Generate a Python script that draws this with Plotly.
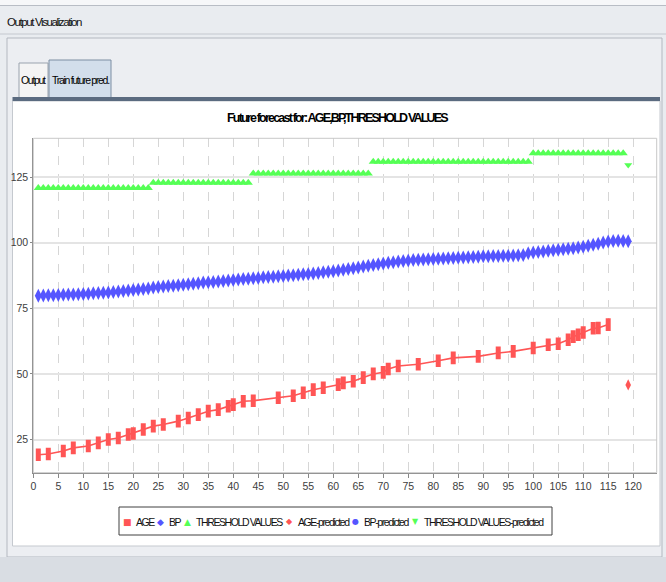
import plotly.graph_objects as go

# ---------------- data ----------------
age_x = [1, 3, 6, 8, 11, 13, 15, 17, 19, 20, 22, 24, 26, 29, 31, 33, 35, 37, 39, 40,
         42, 44, 49, 52, 54, 56, 58, 61, 62, 64, 66, 68, 70, 71, 73, 77, 81, 84, 89, 93,
         96, 100, 103, 105, 107, 108, 109, 110, 112, 113, 115]
age_y = [19.2, 19.5, 20.6, 21.8, 22.5, 23.7, 25.0, 25.6, 26.9, 27.3, 28.8, 30.1, 30.7, 32.0, 33.2, 34.5, 35.8, 36.4, 37.7, 38.3,
         39.6, 39.8, 40.9, 41.7, 42.8, 44.0, 44.7, 45.9, 46.6, 47.2, 48.6, 50.0, 50.6, 51.9, 53.0, 53.7, 55.0, 56.1, 56.7, 58.0,
         58.6, 59.9, 61.1, 61.5, 63.0, 64.2, 64.9, 65.8, 67.4, 67.5, 68.8]

bp_x = list(range(1, 119))
bp_y = [79.8, 79.9, 80.0, 80.0, 80.1, 80.2, 80.3, 80.3, 80.4, 80.5,
        80.6, 80.7, 80.8, 80.9, 81.0, 81.2, 81.4, 81.6, 81.8, 82.0,
        82.2, 82.4, 82.6, 82.9, 83.1, 83.3, 83.5, 83.6, 83.8, 84.0,
        84.2, 84.4, 84.6, 84.8, 84.9, 85.0, 85.2, 85.4, 85.6, 85.8,
        86.0, 86.2, 86.3, 86.5, 86.6, 86.8, 86.9, 87.0, 87.2, 87.3,
        87.5, 87.6, 87.8, 88.0, 88.1, 88.3, 88.5, 88.7, 88.9, 89.1,
        89.4, 89.7, 90.0, 90.3, 90.6, 90.9, 91.2, 91.5, 91.8, 92.1,
        92.4, 92.6, 92.8, 93.0, 93.2, 93.4, 93.5, 93.6, 93.7, 93.8,
        93.9, 94.0, 94.1, 94.2, 94.3, 94.4, 94.5, 94.6, 94.7, 94.8,
        94.8, 94.9, 94.9, 95.0, 95.0, 95.1, 95.2, 95.3, 96.0, 96.3,
        96.5, 96.7, 96.9, 97.1, 97.3, 97.5, 97.7, 97.9, 98.2, 98.5,
        98.8, 99.2, 99.6, 100.1, 100.5, 100.7, 100.8, 100.7]

thr_x = list(range(1, 119))
thr_y = [120.9, 120.9, 120.9, 120.9, 120.9, 120.9, 120.9, 120.9, 120.9, 120.9,
         120.9, 120.9, 120.9, 120.9, 120.9, 120.9, 120.9, 120.9, 120.9, 120.9,
         120.9, 120.9, 120.9, 122.9, 122.9, 122.9, 122.9, 122.9, 122.9, 122.9,
         122.9, 122.9, 122.9, 122.9, 122.9, 122.9, 122.9, 122.9, 122.9, 122.9,
         122.9, 122.9, 122.9, 126.4, 126.4, 126.4, 126.4, 126.4, 126.4, 126.4,
         126.4, 126.4, 126.4, 126.4, 126.4, 126.4, 126.4, 126.4, 126.4, 126.4,
         126.4, 126.4, 126.4, 126.4, 126.4, 126.4, 126.4, 130.9, 130.9, 130.9,
         130.9, 130.9, 130.9, 130.9, 130.9, 130.9, 130.9, 130.9, 130.9, 130.9,
         130.9, 130.9, 130.9, 130.9, 130.9, 130.9, 130.9, 130.9, 130.9, 130.9,
         130.9, 130.9, 130.9, 130.9, 130.9, 130.9, 130.9, 130.9, 130.9, 134.1,
         134.1, 134.1, 134.1, 134.1, 134.1, 134.1, 134.1, 134.1, 134.1, 134.1,
         134.1, 134.1, 134.1, 134.1, 134.1, 134.1, 134.1, 134.1]

age_pred_x = [119]
age_pred_y = [45.8]
bp_pred_x = [119]
bp_pred_y = [100.6]
thr_pred_x = [119]
thr_pred_y = [129.6]

x_ticks = list(range(0, 121, 5))
y_ticks = [25, 50, 75, 100, 125]

legend_labels = ["AGE", "BP", "THRESHOLD VALUES", "AGE-predicted", "BP-predicted",
                 "THRESHOLD VALUES-predicted"]
title_text = "Future forecast for: AGE,BP,THRESHOLD VALUES"
window_title = "Output Visualization"
tab_labels = ["Output", "Train future pred."]

# ---------------- style ----------------
W, H = 666, 582
RED, BLUE, GREEN = "#FF5555", "#5555FF", "#55FF55"
FONT = "Liberation Sans, Arial, sans-serif"
PL, PR, PT, PB = 33.3, 656.7, 138.3, 472.7


def fx(p):
    return p / W


def fy(p):
    return 1 - p / H


def tight(s, ls):
    return '<span style="letter-spacing:%spx">%s</span>' % (ls, s)


fig = go.Figure()
fig.add_trace(go.Scatter(x=age_x, y=age_y, mode="lines+markers", name=legend_labels[0],
                         line=dict(color=RED, width=1.6),
                         marker=dict(symbol="line-ns", size=9, line=dict(color=RED, width=5))))
fig.add_trace(go.Scatter(x=bp_x, y=bp_y, mode="markers", name=legend_labels[1],
                         marker=dict(symbol="diamond-tall", size=10, color=BLUE, line=dict(width=0))))
fig.add_trace(go.Scatter(x=thr_x, y=thr_y, mode="markers", name=legend_labels[2],
                         marker=dict(symbol="triangle-up", size=8, color=GREEN, line=dict(width=0))))
fig.add_trace(go.Scatter(x=age_pred_x, y=age_pred_y, mode="markers", name=legend_labels[3],
                         marker=dict(symbol="diamond-tall", size=8, color=RED, line=dict(width=0))))
fig.add_trace(go.Scatter(x=bp_pred_x, y=bp_pred_y, mode="markers", name=legend_labels[4],
                         marker=dict(symbol="diamond-tall", size=10, color=BLUE, line=dict(width=0))))
fig.add_trace(go.Scatter(x=thr_pred_x, y=thr_pred_y, mode="markers", name=legend_labels[5],
                         marker=dict(symbol="triangle-down", size=7, color=GREEN, line=dict(width=0))))

shapes = []


def rect(x0, y0, x1, y1, fill, line=None, lw=1, layer="below"):
    shapes.append(dict(type="rect", xref="paper", yref="paper",
                       x0=fx(x0), x1=fx(x1), y0=fy(y1), y1=fy(y0),
                       fillcolor=fill, line=dict(color=line or fill, width=lw if line else 0),
                       layer=layer))


def hline(x0, x1, y, color, lw=1, layer="below"):
    shapes.append(dict(type="line", xref="paper", yref="paper",
                       x0=fx(x0), x1=fx(x1), y0=fy(y), y1=fy(y),
                       line=dict(color=color, width=lw), layer=layer))


# window chrome
rect(0, 0, W, 5, "#f6f7f9")
hline(0, W, 5.5, "#b8bdc5", 1)
hline(0, W, 34, "#c4c8cf", 1)
rect(7, 38, 662, 557, "#eceef2", "#b3b8c0", 1)
rect(0, 557, W, H, "#d9dde3")
rect(19, 63, 48, 98, "#f4f4f4", "#9aa3ae", 1)
rect(49, 60, 111, 98, "#d2deeb", "#7d8ea3", 1)
rect(12.5, 101, 660, 546, "#ffffff", "#c5c9cf", 1)
rect(12.5, 97, 660, 101, "#5b6b80")
# plot frame
rect(PL, PT, PR, PB, "rgba(0,0,0,0)", "#c8c8c8", 1, layer="above")
# legend box
LB0, LB1 = 119, 552
rect(LB0, 507, LB1, 535, "#ffffff", "#404040", 1)

annotations = []


def text(x, y, s, size=11, color="#000000", anchor="left", bold=False, ls=-1.0):
    body = tight(s, ls)
    if bold:
        body = "<b>%s</b>" % body
    annotations.append(dict(xref="paper", yref="paper", x=fx(x), y=fy(y), text=body,
                            showarrow=False, xanchor=anchor, yanchor="middle",
                            font=dict(family=FONT, size=size, color=color)))


text(5, 22, window_title, 11.5, color="#111111", ls=-1.4)
text(33.5, 80, tab_labels[0], 10.5, anchor="center", ls=-1.3)
text(80, 80, tab_labels[1], 10.5, anchor="center", ls=-1.3)
text(337, 118, title_text, 12.5, anchor="center", bold=True, ls=-1.8)

# custom legend (marker glyphs + labels)
glyphs = [("■", RED, 9), ("◆", BLUE, 9), ("▲", GREEN, 9), ("◆", RED, 8), ("●", BLUE, 8), ("▼", GREEN, 8)]
glyph_x = [127.5, 160.7, 187.4, 289.6, 355.8, 415.2]
label_x = [134.0, 167.2, 193.9, 296.1, 362.3, 421.7]
for (g, c, gs), gx, lx, lab in zip(glyphs, glyph_x, label_x, legend_labels):
    annotations.append(dict(xref="paper", yref="paper", x=fx(gx), y=fy(521.5), text=g, showarrow=False,
                            xanchor="center", yanchor="middle",
                            font=dict(family="DejaVu Sans", size=gs, color=c)))
    text(lx, 521.5, lab, 10.5, color="#111111", ls=-1.4)

fig.update_layout(
    width=W, height=H, autosize=False,
    margin=dict(l=0, r=0, t=0, b=0, pad=0),
    paper_bgcolor="#e9ecf0", plot_bgcolor="#ffffff",
    showlegend=False,
    font=dict(family=FONT, size=10, color="#444444"),
    shapes=shapes, annotations=annotations,
    xaxis=dict(domain=[fx(PL), fx(PR)], range=[0, 124.7], tickvals=x_ticks, automargin=False,
               ticks="outside", ticklen=4, tickcolor="#888888", showline=True, linecolor="#888888",
               linewidth=1, showgrid=True, gridcolor="#d6d6d6", griddash="dash", gridwidth=1,
               zeroline=False, tickfont=dict(family=FONT, size=10.5, color="#404040")),
    yaxis=dict(domain=[fy(PB), fy(PT)], range=[12.35, 139.8], tickvals=y_ticks, automargin=False,
               ticks="outside", ticklen=2, tickcolor="#888888", showline=True, linecolor="#888888",
               linewidth=1, showgrid=True, gridcolor="#e4e4e4", gridwidth=1.5,
               zeroline=False, tickfont=dict(family=FONT, size=10.5, color="#404040")),
)

fig.write_html("out.html", config={"displayModeBar": False},
               post_script="document.body.style.margin='0';document.body.style.overflow='hidden';")
